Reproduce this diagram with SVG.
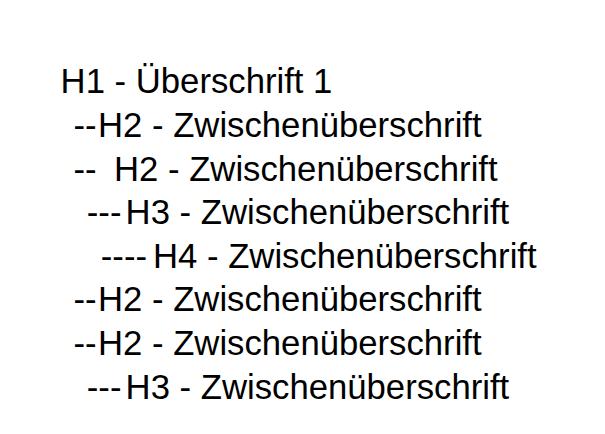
<svg xmlns="http://www.w3.org/2000/svg" width="605" height="434" viewBox="0 0 605 434">
<style>
text{font-family:"Liberation Sans",Arial,sans-serif;font-size:34.7px;fill:#000}
</style>
<rect width="605" height="434" fill="#fff"/>
<g id="h1"><text x="60.6" y="93">H1 - Überschrift 1</text></g>
<g id="h2a"><text y="137"><tspan x="73.5">--</tspan><tspan x="98">H2 - Zwischenüberschrift</tspan></text></g>
<g id="h2b"><text y="180.5"><tspan x="73.5">--</tspan><tspan x="114">H2 - Zwischenüberschrift</tspan></text></g>
<g id="h3a"><text y="224"><tspan x="86.8">---</tspan><tspan x="125.6">H3 - Zwischenüberschrift</tspan></text></g>
<g id="h4"><text y="267.5"><tspan x="100.8">----</tspan><tspan x="153">H4 - Zwischenüberschrift</tspan></text></g>
<g id="h2c"><text y="311"><tspan x="73.5">--</tspan><tspan x="98">H2 - Zwischenüberschrift</tspan></text></g>
<g id="h2d"><text y="355"><tspan x="73.5">--</tspan><tspan x="98">H2 - Zwischenüberschrift</tspan></text></g>
<g id="h3b"><text y="398.5"><tspan x="86.8">---</tspan><tspan x="125.6">H3 - Zwischenüberschrift</tspan></text></g>
</svg>
